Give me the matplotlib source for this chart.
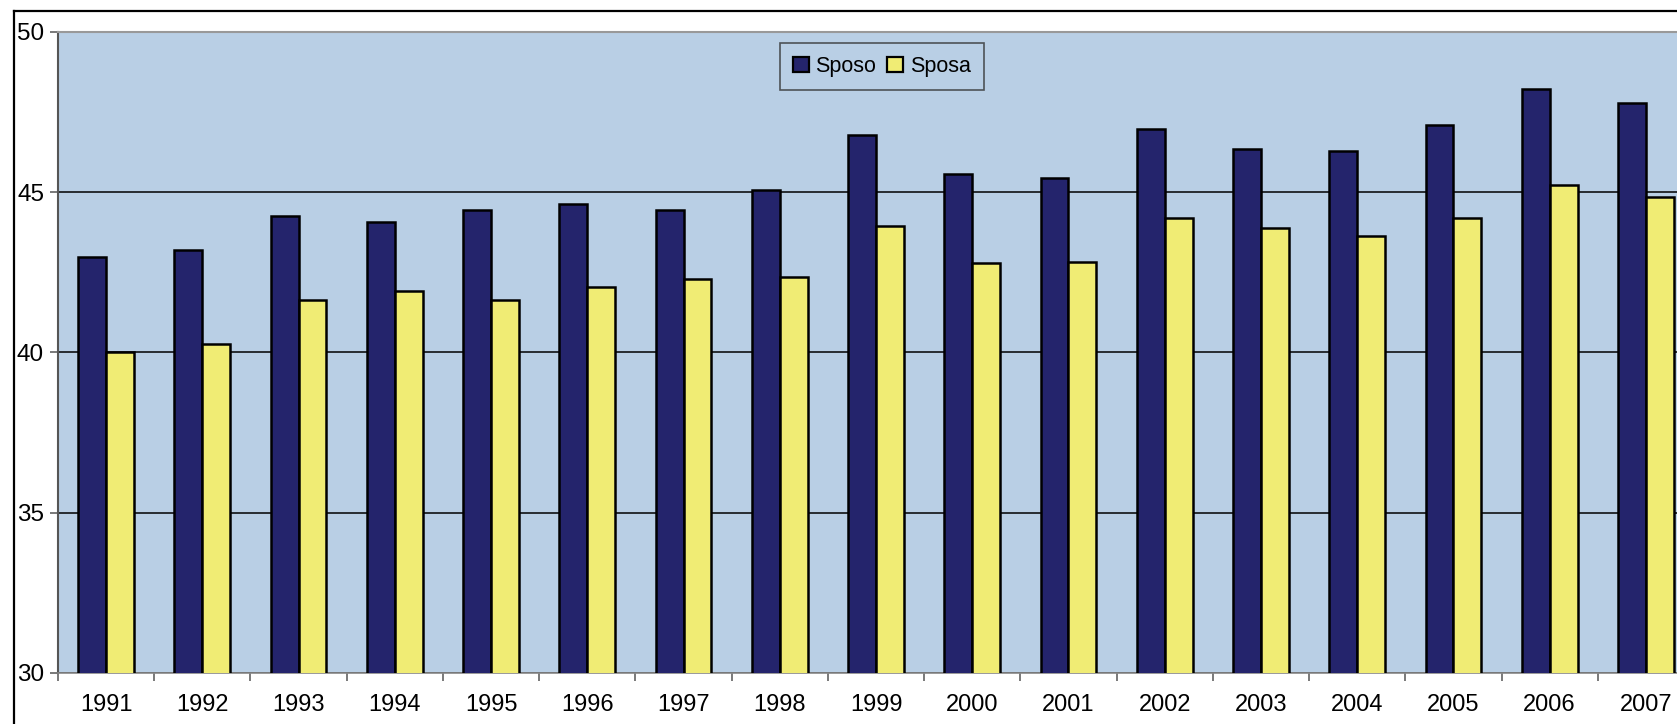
import matplotlib
matplotlib.use("Agg")
import matplotlib.pyplot as plt
from matplotlib.lines import Line2D
from matplotlib.patches import Patch
import numpy as np

years = ["1991", "1992", "1993", "1994", "1995", "1996", "1997", "1998", "1999",
         "2000", "2001", "2002", "2003", "2004", "2005", "2006", "2007"]
sposo = [42.97, 43.21, 44.26, 44.07, 44.45, 44.63, 44.45, 45.07, 46.79,
         45.56, 45.43, 46.97, 46.35, 46.30, 47.10, 48.21, 47.78]
sposa = [40.00, 40.25, 41.65, 41.91, 41.65, 42.03, 42.28, 42.35, 43.95,
         42.78, 42.83, 44.20, 43.88, 43.63, 44.20, 45.23, 44.85]
series_names = ["Sposo", "Sposa"]

plt.rcParams['font.family'] = ['Liberation Sans', 'DejaVu Sans']

W, H = 1677, 724
fig = plt.figure(figsize=(W / 100, H / 100), dpi=100)
fig.patch.set_facecolor('white')

left_px, right_px, top_px, bottom_px = 58, 1694, 32, 673
ax = fig.add_axes([left_px / W, (H - bottom_px) / H,
                   (right_px - left_px) / W, (bottom_px - top_px) / H])

bg = '#B9CFE5'
navy = '#24246C'
yellow = '#F0EC74'
ax.set_facecolor(bg)

x = np.arange(len(years))
bw = 0.29
ax.bar(x - 0.145, sposo, width=bw, bottom=0, color=navy, edgecolor='black',
       linewidth=1.8, zorder=3)
ax.bar(x + 0.145, sposa, width=bw, bottom=0, color=yellow, edgecolor='black',
       linewidth=1.8, zorder=3)

ax.set_ylim(30, 50)
ax.set_xlim(-0.5, len(years) - 0.5)
ax.set_yticks([30, 35, 40, 45, 50])
ax.set_yticklabels(["30", "35", "40", "45", "50"])
ax.yaxis.grid(True, color='black', linewidth=1.1, zorder=1)
ax.set_axisbelow(True)

ax.set_xticks(x)
ax.set_xticklabels(years)
ax.set_xticks(np.arange(-0.5, len(years), 1), minor=True)
ax.tick_params(axis='x', which='major', length=0, pad=15, labelsize=17)
ax.tick_params(axis='x', which='minor', length=6, width=1.1, color='#555555',
               direction='out')
ax.tick_params(axis='y', which='major', length=6, width=1.1, color='#555555',
               direction='out', pad=4, labelsize=17.5)

ax.spines['right'].set_visible(False)
ax.spines['left'].set_color('#555555')
ax.spines['left'].set_linewidth(1.5)
ax.spines['top'].set_color('#999999')
ax.spines['top'].set_linewidth(1.5)
ax.spines['bottom'].set_color('#888888')
ax.spines['bottom'].set_linewidth(1.2)

handles = [Patch(facecolor=navy, edgecolor='black', linewidth=1.6),
           Patch(facecolor=yellow, edgecolor='black', linewidth=1.6)]
leg = ax.legend(handles, series_names, ncol=2, loc='upper left',
                bbox_to_anchor=(780 / W, (H - 43) / H), bbox_transform=fig.transFigure,
                fontsize=15.5, frameon=True, fancybox=False, handlelength=0.75,
                handleheight=0.75, handletextpad=0.3, columnspacing=0.5,
                borderpad=0.6, borderaxespad=0)
leg.get_frame().set_facecolor(bg)
leg.get_frame().set_edgecolor('#333333')
leg.get_frame().set_linewidth(1.2)

# outer chart border
fig.add_artist(Line2D([14 / W, 14 / W], [0, (H - 11) / H], color='black',
                      linewidth=1.6, transform=fig.transFigure))
fig.add_artist(Line2D([14 / W, 1.0], [(H - 11) / H, (H - 11) / H], color='black',
                      linewidth=1.6, transform=fig.transFigure))

fig.savefig("out.png", dpi=100, facecolor='white')
